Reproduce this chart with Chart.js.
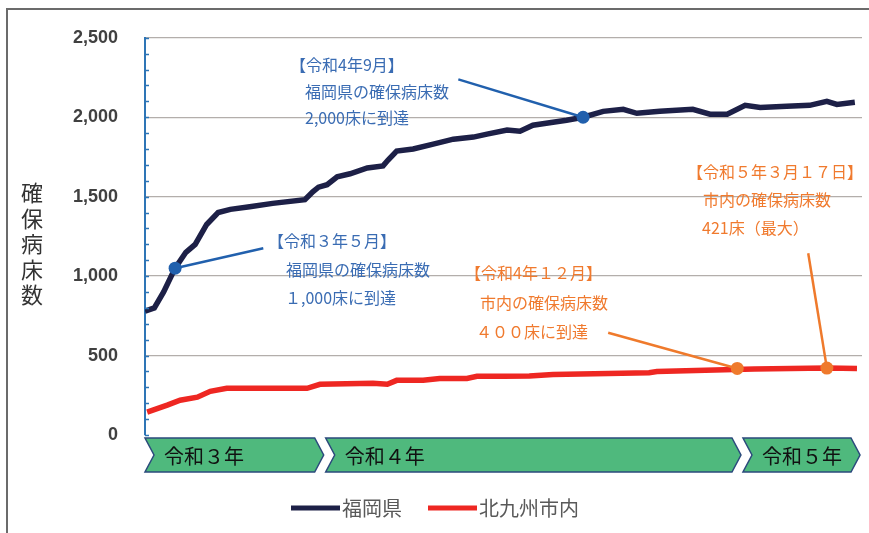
<!DOCTYPE html>
<html>
<head>
<meta charset="utf-8">
<script src="https://cdn.jsdelivr.net/npm/chart.js@4.4.1/dist/chart.umd.min.js"></script>
<style>
  body { margin: 0; background: #fff; }
  canvas { display: block; }
</style>
</head>
<body>
<canvas id="chart" width="869" height="533"></canvas>
<script>
// time axis is an index 0..100 across the period (not evenly spaced in months)
const seriesNames = ['福岡県', '北九州市内']
const fukuokaT = [0, 1.3, 2.6, 4.2, 5.7, 7, 8.6, 10.2, 11.9, 14.6, 17.8, 22.3, 23.4, 24.2, 25.4, 26.8, 28.6, 31, 33.2, 33.9, 35.1, 37.4, 40.2, 43, 45.8, 47.7, 50.5, 52.3, 54.1, 56.9, 58.8, 61.1, 63.9, 66.7, 68.6, 71.8, 76.4, 78.8, 81.2, 83.7, 85.8, 89.5, 92.7, 95.1, 96.5, 99]
const fukuokaV = [780, 800, 900, 1050, 1150, 1200, 1325, 1400, 1420, 1437, 1458, 1481, 1531, 1560, 1575, 1625, 1644, 1681, 1694, 1731, 1787, 1800, 1831, 1862, 1875, 1894, 1919, 1912, 1950, 1969, 1981, 2000, 2037, 2050, 2025, 2037, 2050, 2019, 2019, 2075, 2062, 2069, 2075, 2100, 2081, 2094]
const kitaT = [0.3, 3.1, 4.9, 7.3, 9.1, 11.4, 22.6, 24.4, 31.8, 33.8, 35.1, 38.8, 41.1, 44.9, 46.3, 50, 53.6, 56.9, 64.6, 70.3, 71.4, 82.2, 85, 95.1, 99.3]
const kitaV = [144, 188, 219, 238, 275, 294, 294, 319, 325, 319, 344, 344, 356, 356, 370, 370, 372, 381, 387, 392, 400, 412, 415, 421, 418]

// callouts: point on the line and end of the leader line
const markerT = [4.2, 61.1, 82.6, 95.1]
const markerV = [1050, 2000, 419, 421]
const calloutT = [16.5, 43.7, 64.6, 92.5]
const calloutV = [1175, 2238, 644, 1144]
const calloutColors = ['#2160ad', '#2160ad', '#ef7a2c', '#ef7a2c']
const calloutTexts = [
  ['【令和３年５月】', '福岡県の確保病床数', '１,000床に到達'],
  ['【令和4年9月】', '福岡県の確保病床数', '2,000床に到達'],
  ['【令和4年１２月】', '市内の確保病床数', '４００床に到達'],
  ['【令和５年３月１７日】', '市内の確保病床数', '421床（最大）']
]

const yearLabels = ['令和３年', '令和４年', '令和５年']
const yearStarts = [0, 25.2, 83.4]
const yearEnd = 100

const yMax = 2500
const yStep = 500
const yTitle = '確保病床数'

const jp = '"Noto Sans CJK JP", "Noto Sans", sans-serif'

// text placement (pixels): [x of each line, y of first line, line gap]
const textPos = [
  { x: [268, 286, 285], y: 241, gap: 28.5 },
  { x: [290, 305, 305], y: 65, gap: 26.5 },
  { x: [465, 480, 476], y: 273, gap: 29.5 },
  { x: [687, 703, 702], y: 172, gap: 28 }
]

function pts(ts, vs) {
  return ts.map((t, i) => ({ x: t, y: vs[i] }))
}

let datasets = [
  { label: seriesNames[0], data: pts(fukuokaT, fukuokaV), borderColor: '#1d2047', borderWidth: 5.5, pointRadius: 0, order: 2 },
  { label: seriesNames[1], data: pts(kitaT, kitaV), borderColor: '#ee2722', borderWidth: 5.5, pointRadius: 0, order: 3 }
]
for (let i = 0; i < markerT.length; i++) {
  datasets.push({
    label: 'callout' + i,
    data: [{ x: markerT[i], y: markerV[i] }, { x: calloutT[i], y: calloutV[i] }],
    borderColor: calloutColors[i],
    backgroundColor: calloutColors[i],
    borderWidth: 2.5,
    pointRadius: [6.5, 0],
    pointBorderWidth: 0,
    order: 1
  })
}

const decor = {
  id: 'decor',
  beforeDraw(chart) {
    const ctx = chart.ctx
    ctx.save()
    ctx.fillStyle = '#fff'
    ctx.fillRect(0, 0, chart.width, chart.height)
    ctx.strokeStyle = '#6b6b6b'
    ctx.lineWidth = 2
    ctx.beginPath()
    ctx.moveTo(7, 533)
    ctx.lineTo(7, 9)
    ctx.lineTo(869, 9)
    ctx.stroke()
    ctx.restore()
  },
  afterDraw(chart) {
    const ctx = chart.ctx
    const xs = chart.scales.x
    const ys = chart.scales.y
    const area = chart.chartArea
    ctx.save()

    // minor ticks on the y axis
    ctx.strokeStyle = '#2e75b6'
    ctx.lineWidth = 1.5
    for (let v = 0; v <= yMax; v += 100) {
      const py = Math.round(ys.getPixelForValue(v)) + 0.5
      ctx.beginPath()
      ctx.moveTo(area.left, py)
      ctx.lineTo(area.left + 4, py)
      ctx.stroke()
    }

    // y axis title, stacked characters
    ctx.fillStyle = '#333'
    ctx.font = '22px ' + jp
    ctx.textAlign = 'center'
    ctx.textBaseline = 'middle'
    const chars = [...yTitle]
    chars.forEach((c, i) => ctx.fillText(c, 32, 193 + i * 25.5))

    // callout texts
    ctx.textAlign = 'left'
    ctx.font = '16px ' + jp
    calloutTexts.forEach((lines, i) => {
      ctx.fillStyle = calloutColors[i] === '#2160ad' ? '#3a6cb3' : '#f07a2e'
      lines.forEach((s, j) => ctx.fillText(s, textPos[i].x[j], textPos[i].y + j * textPos[i].gap))
    })

    // year band arrows
    const top = 438, bottom = 472, mid = (top + bottom) / 2, d = 9
    for (let i = 0; i < yearLabels.length; i++) {
      const x0 = xs.getPixelForValue(yearStarts[i])
      const x1 = (i + 1 < yearStarts.length ? xs.getPixelForValue(yearStarts[i + 1]) : xs.getPixelForValue(yearEnd)) - 2
      ctx.beginPath()
      ctx.moveTo(x0, top)
      ctx.lineTo(x1 - d, top)
      ctx.lineTo(x1, mid)
      ctx.lineTo(x1 - d, bottom)
      ctx.lineTo(x0, bottom)
      ctx.lineTo(x0 + d, mid)
      ctx.closePath()
      ctx.fillStyle = '#4fb97d'
      ctx.fill()
      ctx.strokeStyle = '#2b4a7c'
      ctx.lineWidth = 1.5
      ctx.stroke()
      ctx.fillStyle = '#111'
      ctx.font = '20px ' + jp
      ctx.textBaseline = 'middle'
      ctx.fillText(yearLabels[i], x0 + 19, mid + 1)
    }

    // legend
    const legendX = [291, 428]
    const colors = [datasets[0].borderColor, datasets[1].borderColor]
    ctx.font = '20px ' + jp
    for (let i = 0; i < 2; i++) {
      ctx.strokeStyle = colors[i]
      ctx.lineWidth = 5
      ctx.beginPath()
      ctx.moveTo(legendX[i], 508)
      ctx.lineTo(legendX[i] + 49, 508)
      ctx.stroke()
      ctx.fillStyle = '#595959'
      ctx.fillText(seriesNames[i], legendX[i] + 51, 508)
    }
    ctx.restore()
  }
}

new Chart(document.getElementById('chart'), {
  type: 'line',
  data: { datasets: datasets },
  options: {
    responsive: false,
    animation: false,
    layout: { padding: { top: 35, bottom: 98, left: 0, right: 7 } },
    plugins: { legend: { display: false }, tooltip: { enabled: false } },
    scales: {
      x: { type: 'linear', min: 0, max: yearEnd, display: false },
      y: {
        min: 0,
        max: yMax,
        afterFit(scale) { scale.width = 145 },
        ticks: {
          stepSize: yStep,
          padding: 27,
          color: '#404040',
          font: { family: '"Liberation Sans", Arial, sans-serif', size: 18, weight: 'bold' },
          callback: v => v.toLocaleString('en-US')
        },
        grid: {
          drawTicks: false,
          color: c => c.tick.value === 0 ? 'rgba(0,0,0,0)' : '#b3aeab',
          lineWidth: 1.3
        },
        border: { color: '#2e75b6', width: 2 }
      }
    }
  },
  plugins: [decor]
})
</script>
</body>
</html>
